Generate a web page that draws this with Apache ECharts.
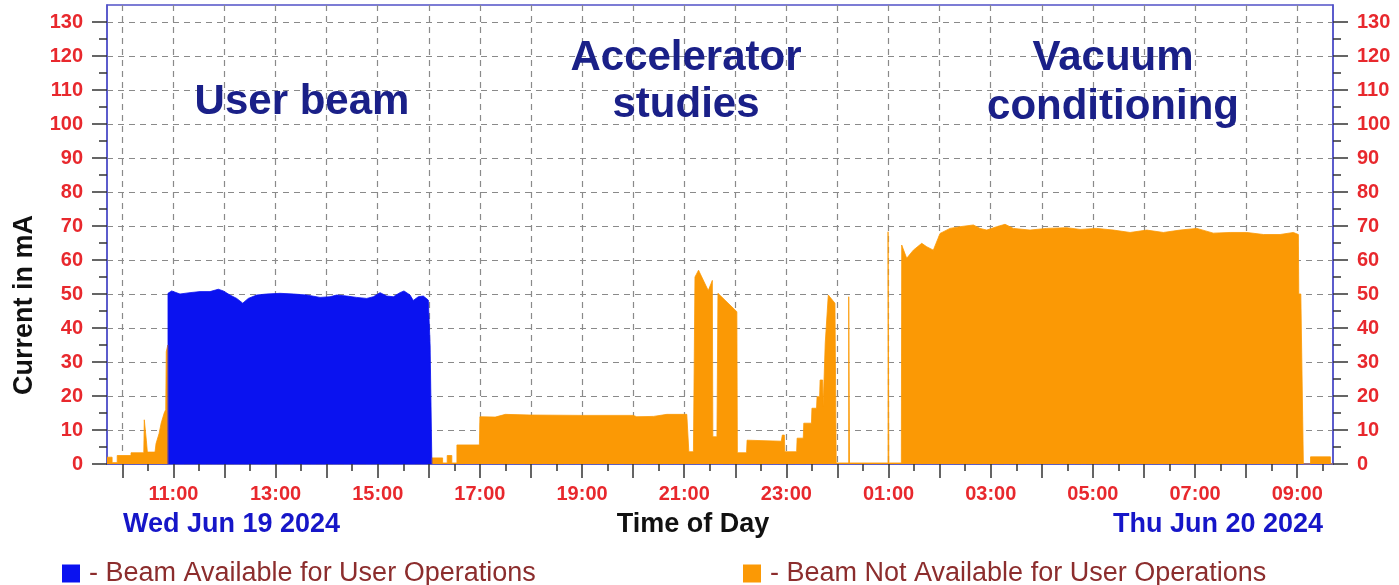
<!DOCTYPE html>
<html>
<head>
<meta charset="utf-8">
<script src="https://cdn.jsdelivr.net/npm/echarts@6/dist/echarts.min.js"></script>
<style>
  html, body { margin: 0; padding: 0; background: #fff; }
  #chart { width: 1399px; height: 585px; }
</style>
</head>
<body>
<div id="chart"></div>
<script>
// time in hours since midnight Jun 19 (values past 24 are Jun 20)
var beamHours = [10.894, 10.894, 10.966, 11.129, 11.325, 11.521, 11.716, 11.879, 11.977, 12.108, 12.239, 12.357, 12.466, 12.63, 12.826, 13.087, 13.348, 13.609, 13.87, 14.066, 14.197, 14.393, 14.588, 14.784, 14.914, 15.045, 15.176, 15.305, 15.436, 15.514, 15.632, 15.696, 15.794, 15.892, 15.99, 16.02, 16.025, 16.06, 16.06];
var beamCurrent = [0, 50.2, 50.9, 50, 50.4, 50.7, 50.7, 51.4, 50.9, 49.7, 48.7, 47.3, 48.7, 49.7, 50, 50.2, 50, 49.7, 49, 49.2, 49.7, 49.4, 49, 48.7, 49.2, 50.4, 49.4, 49.2, 50.4, 50.9, 49.7, 48.1, 49.2, 49.4, 48.2, 48, 35, 35, 0];

// null = gap where the user beam is on
var otherHours = [9.7, 9.8, 9.8, 9.9, 9.9, 10.17, 10.17, 10.42, 10.43, 10.46, 10.47, 10.49, 10.64, 10.66, 10.72, 10.76, 10.82, 10.85, 10.86, 10.89, 10.894,
  13.5,
  16.062, 16.062, 16.27, 16.27, 16.36, 16.36, 16.45, 16.45, 16.55, 16.55, 16.99, 17.0, 17.3, 17.5, 17.98, 19.0, 20.0, 20.07, 20.4, 20.66, 21.05, 21.08, 21.09, 21.18, 21.21, 21.28, 21.47, 21.55, 21.56, 21.64, 21.66, 22.03, 22.04, 22.22, 22.23, 22.9, 22.92, 22.96, 22.97, 23.2, 23.21, 23.33, 23.34, 23.49, 23.5, 23.59, 23.6, 23.65, 23.66, 23.71, 23.72, 23.75, 23.76, 23.82, 23.95, 23.97, 23.975,
  24.22, 24.22, 24.235, 24.235,
  24.99, 24.99, 25.005, 25.005,
  25.25, 25.257, 25.355, 25.485, 25.649, 25.747, 25.876, 26.007, 26.203, 26.399, 26.66, 26.79, 26.921, 27.117, 27.28, 27.443, 27.769, 28.096, 28.488, 28.749, 29.075, 29.401, 29.728, 30.054, 30.38, 30.707, 31.033, 31.358, 31.685, 32.012, 32.338, 32.664, 32.924, 33.022, 33.03, 33.07, 33.12, 33.26, 33.26, 33.65, 33.65, 33.7];
var otherCurrent = [2, 2, 0.4, 0.4, 2.5, 2.5, 3.3, 3.3, 13, 13, 7, 3.5, 3.5, 6, 9, 12, 15, 16, 33, 35, 0,
  null,
  0, 1.8, 1.8, 0.3, 0.3, 2.5, 2.5, 0.3, 0.3, 5.6, 5.6, 13.9, 13.8, 14.6, 14.4, 14.3, 14.3, 13.9, 14, 14.6, 14.6, 14.4, 3.6, 3.6, 55, 57, 51, 54, 8, 8, 50.2, 44.8, 3.3, 3.3, 7, 6.7, 8.5, 8.5, 3.6, 3.6, 7.6, 7.6, 12, 12, 16.4, 16.4, 19.8, 19.8, 24.7, 24.7, 17, 17, 35.5, 49.7, 47.3, 47, 0.3,
  0.3, 49.2, 49.2, 0.3,
  0.3, 68.3, 68.3, 0.3,
  0.3, 64.4, 60.5, 62.9, 64.9, 63.9, 62.9, 67.8, 69.3, 69.8, 70.3, 69.3, 68.8, 69.8, 70.5, 69.3, 68.8, 69.3, 69.5, 69, 69.3, 68.8, 68.1, 68.8, 68.1, 68.8, 69.3, 67.9, 68.1, 68.1, 67.5, 67.5, 68.1, 67.5, 50, 50, 0, 0, 2.1, 2.1, 0, 0];

var hourTicks = [];      // every hour 10:00 .. 09:00 next day
var halfHourTicks = [];
var hourLabels = [];     // every other hour, 11:00 .. 09:00
for (var h = 10; h <= 33; h++) {
  hourTicks.push(h);
  halfHourTicks.push(h + 0.5);
  if (h % 2 === 1) hourLabels.push(h);
}
var currentTicks = [0, 10, 20, 30, 40, 50, 60, 70, 80, 90, 100, 110, 120, 130];
var currentMinor = [5, 15, 25, 35, 45, 55, 65, 75, 85, 95, 105, 115, 125];

var BLUE = '#0a12f0';
var ORANGE = '#fb9905';
var AXIS_BLUE = '#5252c8';
var RED = '#e8282d';
var NAVY = '#1a2088';
var FONT = '"Liberation Sans", Arial, sans-serif';

function pairs(xs, ys) {
  var out = [];
  for (var i = 0; i < xs.length; i++) {
    out.push(ys[i] === null ? [xs[i], '-'] : [xs[i], ys[i]]);
  }
  return out;
}
function hhmm(v) {
  var h = Math.round(v) % 24;
  return (h < 10 ? '0' + h : '' + h) + ':00';
}

function xAx(major) {
  return {
    type: 'value', min: 9.7, max: 33.7, position: 'bottom', gridIndex: 0, z: 0,
    axisLine: { show: major, lineStyle: { color: AXIS_BLUE, width: 1.5 } },
    axisTick: { show: true, customValues: major ? hourTicks : halfHourTicks, length: major ? 14 : 7, lineStyle: { color: '#333', width: 1.5 } },
    axisLabel: { show: major, customValues: hourLabels, formatter: hhmm, color: RED, fontSize: 20, fontWeight: 'bold', fontFamily: FONT, margin: 20 },
    splitLine: { show: major, lineStyle: { color: '#8a8a8a', width: 1.2, type: [6, 5] } }
  };
}
function yAx(pos, major) {
  return {
    type: 'value', min: 0, max: 135, position: pos, gridIndex: 0, z: 0,
    axisLine: { show: major, lineStyle: { color: AXIS_BLUE, width: 1.5 } },
    axisTick: { show: true, customValues: major ? currentTicks : currentMinor, length: major ? 15 : 8, lineStyle: { color: '#333', width: 1.5 } },
    axisLabel: { show: major, customValues: currentTicks, color: RED, fontSize: 20, fontWeight: 'bold', fontFamily: FONT, margin: 24 },
    splitLine: { show: major && pos === 'left', lineStyle: { color: '#8a8a8a', width: 1.2, type: [6, 5] } }
  };
}
function legendFor(left, name) {
  return {
    left: left, top: 555, icon: 'rect', itemWidth: 18, itemHeight: 18, data: [name],
    formatter: function (n) { return '- ' + n; },
    textStyle: { fontSize: 27, color: '#8c2d2d', fontFamily: FONT, padding: [0, 0, 0, 4] }
  };
}
function label(text, x, y, size, color, align) {
  return { type: 'text', x: x, y: y, z: 20,
    style: { text: text, font: 'bold ' + size + 'px ' + FONT, fill: color, textAlign: align || 'center', textVerticalAlign: 'middle' } };
}

var chart = echarts.init(document.getElementById('chart'));
var option = {
  animation: false,
  backgroundColor: '#fff',
  grid: { left: 107, right: 66, top: 5, bottom: 121, show: true, borderColor: AXIS_BLUE, borderWidth: 1.5 },
  xAxis: [xAx(true), xAx(false)],
  yAxis: [yAx('left', true), yAx('left', false), yAx('right', true), yAx('right', false)],
  legend: [
    legendFor(57, 'Beam Available for User Operations'),
    legendFor(738, 'Beam Not Available for User Operations')
  ],
  series: [
    {
      name: 'Beam Not Available for User Operations', type: 'line', xAxisIndex: 0, yAxisIndex: 0, z: 5,
      data: pairs(otherHours, otherCurrent), symbol: 'none', connectNulls: false,
      itemStyle: { color: ORANGE }, lineStyle: { color: ORANGE, width: 0.8 },
      areaStyle: { color: ORANGE, opacity: 1 }
    },
    {
      name: 'Beam Available for User Operations', type: 'line', xAxisIndex: 0, yAxisIndex: 0, z: 5,
      data: pairs(beamHours, beamCurrent), symbol: 'none',
      itemStyle: { color: BLUE }, lineStyle: { color: BLUE, width: 0.8 },
      areaStyle: { color: BLUE, opacity: 1 }
    }
  ],
  graphic: [
    { type: 'text', x: 25, y: 305, rotation: Math.PI / 2, z: 20,
      style: { text: 'Current in mA', font: 'bold 27px ' + FONT, fill: '#111', textAlign: 'center', textVerticalAlign: 'middle' } },
    label('Wed Jun 19 2024', 123, 525, 27, '#1616c8', 'left'),
    label('Time of Day', 693, 525, 27, '#111'),
    label('Thu Jun 20 2024', 1323, 525, 27, '#1616c8', 'right'),
    label('User beam', 302, 102, 42, NAVY),
    label('Accelerator', 686, 58, 42, NAVY),
    label('studies', 686, 105, 42, NAVY),
    label('Vacuum', 1113, 58, 42, NAVY),
    label('conditioning', 1113, 107, 42, NAVY)
  ]
};
chart.setOption(option);
</script>
</body>
</html>
